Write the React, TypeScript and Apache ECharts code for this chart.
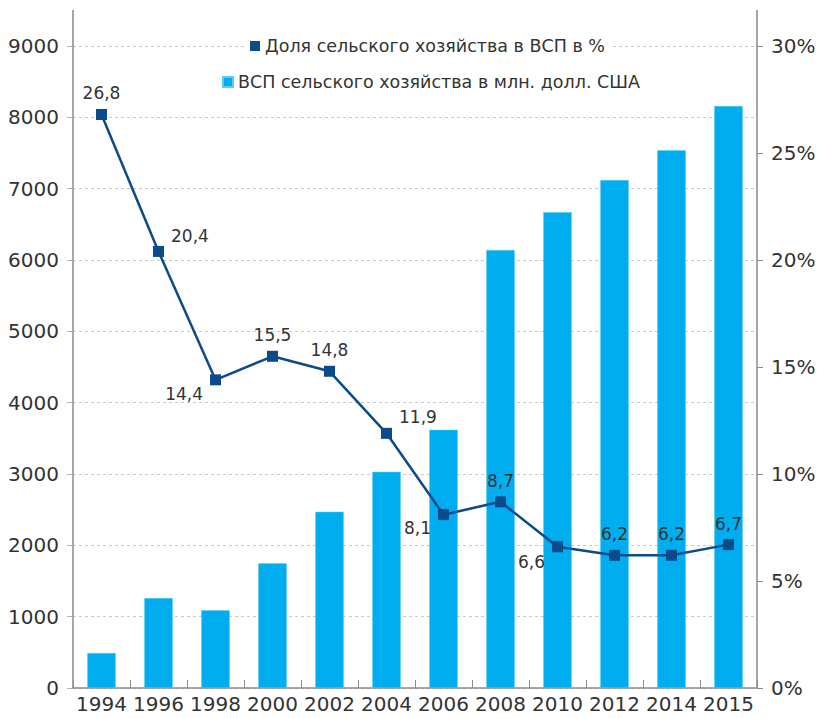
import React, { useEffect, useRef } from "react";
import * as echarts from "echarts";

const years = ["1994", "1996", "1998", "2000", "2002", "2004", "2006", "2008", "2010", "2012", "2014", "2015"];
const gdpAgri = [490, 1260, 1090, 1750, 2470, 3030, 3620, 6140, 6670, 7120, 7540, 8160];
const agriShare = [26.8, 20.4, 14.4, 15.5, 14.8, 11.9, 8.1, 8.7, 6.6, 6.2, 6.2, 6.7];
const labelPlace = ["top", "right", "left", "top", "top", "right", "left", "top", "left", "top", "top", "top"];
const labelShift = [[0, 0], [0, -15], [0, 14], [0, 0], [0, 0], [0, -16], [0, 13], [0, 0], [0, 15], [0, 0], [0, 0], [0, 0]];

const shareName = "Доля сельского хозяйства в ВСП в %";
const gdpName = "ВСП сельского хозяйства в млн. долл. США";

const FONT = "'DejaVu Sans', Verdana, sans-serif";
const TEXT = "#333";
const AXIS = "#8a8a8a";
const BAR = "#00aeef";
const LINE = "#0b4a8b";

const GRID_LEFT = 73;
const GRID_RIGHT = 63;
const GRID_TOP = 46;
const GRID_BOTTOM = 30;
const W = 820;
const H = 718;

export default function App() {
  const ref = useRef<HTMLDivElement>(null);
  useEffect(() => {
    if (!ref.current) return;
    const chart = echarts.init(ref.current, undefined, { renderer: "svg" });
    const lineData = agriShare.map((v, i) => ({
      value: v,
      label: {
        position: labelPlace[i],
        offset: labelShift[i],
      },
    }));
    chart.setOption({
      animation: false,
      backgroundColor: "#fff",
      textStyle: { fontFamily: FONT },
      grid: { left: GRID_LEFT, right: GRID_RIGHT, top: GRID_TOP, bottom: GRID_BOTTOM, containLabel: false },
      legend: [
        {
          data: [{ name: shareName, icon: "rect", itemStyle: { color: LINE } }],
          left: 244,
          top: 34,
          padding: [3, 6],
          backgroundColor: "#fff",
          itemWidth: 10,
          itemHeight: 10,
          itemGap: 6,
          textStyle: { fontFamily: FONT, fontSize: 17.5, color: TEXT },
          selectedMode: false,
        },
        {
          data: [{ name: gdpName, icon: "rect", itemStyle: { color: BAR } }],
          left: 216,
          top: 70,
          padding: [3, 6],
          itemWidth: 10,
          itemHeight: 10,
          textStyle: { fontFamily: FONT, fontSize: 17.5, color: TEXT },
          selectedMode: false,
        },
      ],
      xAxis: {
        type: "category",
        data: years,
        boundaryGap: true,
        axisLine: { show: true, lineStyle: { color: AXIS, width: 1.5 } },
        axisTick: { show: true, inside: true, length: 8, lineStyle: { color: AXIS } },
        axisLabel: { interval: 0, fontSize: 20, color: TEXT, fontFamily: FONT, margin: 6 },
        splitLine: { show: false },
      },
      yAxis: [
        {
          type: "value",
          min: 0,
          max: 9000,
          interval: 1000,
          position: "left",
          axisLine: { show: true, lineStyle: { color: AXIS, width: 1.5 } },
          axisTick: { show: true, length: 6, lineStyle: { color: "#b0b0b0" } },
          axisLabel: { fontSize: 20, color: TEXT, fontFamily: FONT, margin: 14, formatter: (v: number) => String(v) },
          splitLine: { show: true, lineStyle: { color: "#c8c8c8", type: [3, 3], width: 1 } },
        },
        {
          type: "value",
          min: 0,
          max: 30,
          interval: 5,
          position: "right",
          axisLine: { show: true, lineStyle: { color: AXIS, width: 1.5 } },
          axisTick: { show: true, length: 6, lineStyle: { color: AXIS } },
          axisLabel: { fontSize: 20, color: TEXT, fontFamily: FONT, margin: 14, formatter: "{value}%" },
          splitLine: { show: false },
        },
      ],
      series: [
        {
          name: gdpName,
          type: "bar",
          yAxisIndex: 0,
          data: gdpAgri,
          barWidth: "50%",
          itemStyle: { color: BAR, borderColor: "#5cccf5", borderWidth: 0.5 },
          z: 2,
        },
        {
          name: shareName,
          type: "line",
          yAxisIndex: 1,
          data: lineData,
          symbol: "rect",
          symbolSize: 11,
          lineStyle: { color: LINE, width: 2.5 },
          itemStyle: { color: LINE },
          label: {
            show: true,
            fontSize: 17,
            color: TEXT,
            fontFamily: FONT,
            distance: 7,
            formatter: (p: any) => String(p.value).replace(".", ","),
          },
          z: 5,
        },
      ],
      graphic: [
        {
          type: "line",
          shape: { x1: GRID_LEFT, y1: 10, x2: GRID_LEFT, y2: GRID_TOP },
          style: { stroke: AXIS, lineWidth: 1.5 },
        },
        {
          type: "line",
          shape: { x1: W - GRID_RIGHT, y1: 10, x2: W - GRID_RIGHT, y2: GRID_TOP },
          style: { stroke: AXIS, lineWidth: 1.5 },
        },
      ],
    });
    return () => chart.dispose();
  }, []);
  return <div ref={ref} style={{ width: W, height: H, position: "absolute", left: 0, top: 0 }} />;
}
